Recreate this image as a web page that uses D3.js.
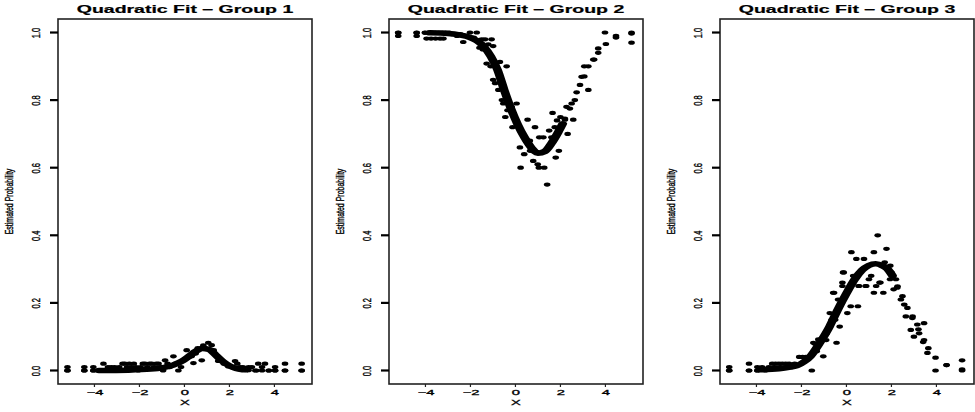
<!DOCTYPE html>
<html>
<head>
<meta charset="utf-8">
<script src="https://cdn.jsdelivr.net/npm/d3@7"></script>
<style>
  html, body { margin: 0; padding: 0; background: #fff; }
  svg { display: block; font-family: "Liberation Sans", Arial, sans-serif; }
</style>
</head>
<body>
<svg id="chart" width="975" height="412"></svg>
<script>
// values
const titles = ["Quadratic Fit – Group 1", "Quadratic Fit – Group 2", "Quadratic Fit – Group 3"];
const xTicks = [-4, -2, 0, 2, 4];
const yTicks = [0, 0.2, 0.4, 0.6, 0.8, 1.0];
const xLabel = "X";
const yLabel = "Estimated Probability";

// fitted curve where the x values are dense (drawn as a thick band)
const curve1 = [[-3.8, 0], [-2.5, 0.001], [-1.5, 0.004], [-1.0, 0.008], [-0.5, 0.016], [-0.1, 0.028],
  [0.2, 0.042], [0.5, 0.057], [0.8, 0.065], [1.1, 0.062], [1.4, 0.045], [1.7, 0.027], [2.0, 0.014],
  [2.3, 0.006], [2.6, 0.002]];
const curve2 = [[-3.8, 0.999], [-3, 0.997], [-2.5, 0.993], [-2.0, 0.985], [-1.7, 0.975], [-1.4, 0.958],
  [-1.1, 0.93], [-0.8, 0.89], [-0.5, 0.83], [-0.2, 0.775], [0.1, 0.728], [0.4, 0.69], [0.7, 0.66],
  [1.0, 0.643], [1.3, 0.648], [1.6, 0.672], [1.9, 0.705], [2.1, 0.73]];
const curve3 = [[-3.8, 0.002], [-3, 0.005], [-2.5, 0.01], [-2.2, 0.014], [-1.9, 0.025], [-1.6, 0.042],
  [-1.2, 0.08], [-0.75, 0.13], [-0.4, 0.178], [0, 0.228], [0.35, 0.268], [0.7, 0.297], [1.0, 0.311],
  [1.3, 0.316], [1.6, 0.31], [1.8, 0.302], [2.05, 0.28]];

// fitted values at the sparse x values
const fit1 = [[-5.2, 0], [-4.45, 0], [-4.05, 0], [2.85, 0.001], [3.2, 0], [3.45, 0], [3.75, 0],
  [4.03, 0], [4.47, 0], [5.21, 0]];
const fit2 = [[-5.21, 0.999], [-4.39, 0.999], [-4.02, 0.999], [2.2, 0.745], [2.42, 0.775], [2.64, 0.80],
  [2.87, 0.845], [3.06, 0.87], [3.24, 0.9], [3.46, 0.92], [3.68, 0.94], [4.02, 0.966], [4.47, 0.985],
  [5.16, 0.997]];
const fit3 = [[-5.21, 0], [-4.33, 0], [-3.96, 0], [2.27, 0.249], [2.49, 0.22], [2.71, 0.185],
  [2.93, 0.155], [3.2, 0.122], [3.45, 0.09], [3.64, 0.066], [3.96, 0.038], [4.45, 0.016], [5.14, 0.003]];

// observed proportions
const obs1 = [[-5.2, 0], [-5.2, 0.01], [-4.45, 0], [-4.45, 0.01], [-4.05, 0], [-4.05, 0.01],
  [-3.6, 0.02], [-3.6, 0], [-3.4, 0.01], [-3.25, 0.01], [-3.1, 0.01], [-3.0, 0], [-2.9, 0.01],
  [-2.75, 0.02], [-2.65, 0.02], [-2.55, 0.01], [-2.45, 0.02], [-2.35, 0.01], [-2.25, 0.02],
  [-2.15, 0.01], [-2.05, 0], [-1.95, 0.01], [-1.85, 0.02], [-1.75, 0.02], [-1.65, 0.01],
  [-1.55, 0.02], [-1.45, 0.02], [-1.35, 0.01], [-1.25, 0.02], [-1.15, 0.02], [-1.05, 0.01],
  [-0.95, 0], [-0.86, 0.03], [-0.75, 0.02], [-0.65, 0.01], [-0.49, 0.042], [-0.4, 0.02],
  [-0.27, 0], [-0.15, 0.01], [-0.05, 0.03], [0.1, 0.06], [0.2, 0.04], [0.32, 0.042], [0.4, 0.022],
  [0.5, 0.05], [0.59, 0.066], [0.77, 0.03], [0.84, 0.074], [1.06, 0.082], [1.21, 0.075], [1.3, 0.06],
  [1.36, 0.05], [1.5, 0.028], [1.6, 0.03], [1.75, 0.02], [1.95, 0.012], [2.1, 0.01], [2.25, 0.028],
  [2.35, 0.02], [2.47, 0.01], [2.6, 0.01], [2.75, 0], [2.85, 0.01], [3.0, 0.01], [3.15, 0],
  [3.28, 0.02], [3.45, 0.01], [3.58, 0.02], [3.75, 0], [4.03, 0], [4.03, 0.01], [4.47, 0.02],
  [4.47, 0], [5.21, 0.02], [5.21, 0]];
const obs2 = [[-5.21, 1.0], [-5.21, 0.99], [-4.39, 1.0], [-4.39, 0.99], [-4.02, 1.0], [-3.85, 1.0],
  [-3.7, 1.0], [-3.55, 1.0], [-3.4, 1.0], [-3.25, 1.0], [-3.1, 1.0], [-2.95, 1.0], [-3.95, 0.982],
  [-3.75, 0.982], [-3.55, 0.982], [-3.35, 0.982], [-3.2, 0.982], [-2.8, 0.995], [-2.6, 0.99],
  [-2.45, 0.995], [-2.32, 0.972], [-2.2, 0.99], [-2.02, 1.0], [-1.72, 1.0], [-1.85, 0.985],
  [-1.5, 0.98], [-1.35, 0.98], [-1.21, 0.965], [-1.06, 0.98], [-0.99, 0.96], [-1.28, 0.908],
  [-0.69, 0.913], [-0.39, 0.9], [-0.99, 0.86], [-0.76, 0.83], [-0.54, 0.79], [-0.24, 0.771],
  [0.05, 0.79], [-0.17, 0.78], [-0.13, 0.72], [0.54, 0.742], [0.87, 0.72], [0.64, 0.68], [1.06, 0.69],
  [1.24, 0.69], [0.39, 0.64], [0.23, 0.60], [0.79, 0.62], [0.99, 0.61], [1.04, 0.60], [1.28, 0.60],
  [1.41, 0.55], [1.5, 0.71], [1.65, 0.762], [1.79, 0.63], [1.93, 0.65], [2.32, 0.70], [2.2, 0.742],
  [2.27, 0.78], [2.5, 0.79], [2.57, 0.742], [2.72, 0.823], [2.94, 0.869], [3.06, 0.9], [3.24, 0.83],
  [3.5, 0.92], [3.68, 0.953], [3.98, 1.0], [4.47, 0.99], [5.16, 0.97], [5.16, 1.0],
  [-1.6, 0.955], [-1.45, 0.95], [-1.1, 0.9], [-0.9, 0.85], [-0.6, 0.8], [-0.35, 0.77], [-0.45, 0.75],
  [0.2, 0.66], [0.65, 0.65], [1.6, 0.69], [1.75, 0.72], [1.85, 0.74], [2.0, 0.75]];
const obs3 = [[-5.21, 0.01], [-5.21, 0], [-4.33, 0.02], [-4.33, 0], [-3.96, 0.01], [-3.96, 0],
  [-3.75, 0.01], [-3.6, 0], [-3.45, 0.01], [-3.3, 0.02], [-3.15, 0.02], [-3.0, 0.02], [-2.85, 0.02],
  [-2.7, 0.02], [-2.55, 0.02], [-3.2, 0.01], [-2.95, 0.01], [-2.7, 0.01], [-2.45, 0.01], [-2.3, 0.02],
  [-2.1, 0.04], [-1.95, 0.04], [-1.8, 0.04], [-1.65, 0.04], [-1.54, 0], [-1.4, 0.079], [-1.25, 0.092],
  [-1.47, 0.082], [-1.03, 0.042], [-1.32, 0.057], [-0.88, 0.11], [-0.66, 0.14], [-0.44, 0.082],
  [-0.3, 0.13], [-0.66, 0.15], [-0.74, 0.17], [-0.37, 0.21], [-0.59, 0.23], [-0.18, 0.25],
  [-0.12, 0.29], [0.04, 0.17], [0.19, 0.19], [0.51, 0.19], [0.56, 0.25], [0.85, 0.25], [1.22, 0.23],
  [1.47, 0.26], [1.94, 0.27], [2.1, 0.24], [2.42, 0.21], [2.57, 0.195], [2.64, 0.16], [2.94, 0.16],
  [2.86, 0.12], [3.0, 0.10], [3.23, 0.11], [3.15, 0.136], [3.45, 0.14], [3.41, 0.084], [3.6, 0.052],
  [3.96, 0], [4.45, 0.016], [5.14, 0.03], [5.14, 0],
  [1.39, 0.40], [1.78, 0.36], [0.22, 0.35], [1.22, 0.35], [0.44, 0.33], [0.78, 0.33], [-0.15, 0.29],
  [1.7, 0.32], [1.95, 0.31], [1.1, 0.28], [1.51, 0.26], [1.32, 0.25], [0.54, 0.25], [0.88, 0.25],
  [1.64, 0.23], [-0.18, 0.26], [-0.55, 0.23], [2.2, 0.27], [2.26, 0.245],
  [-0.9, 0.09], [-0.5, 0.15], [-0.2, 0.2], [0.1, 0.24], [0.3, 0.28], [0.6, 0.29], [1.0, 0.27],
  [1.6, 0.31], [2.0, 0.29]];

const panels = [
  { title: titles[0], curve: curve1, fit: fit1, obs: obs1 },
  { title: titles[1], curve: curve2, fit: fit2, obs: obs2 },
  { title: titles[2], curve: curve3, fit: fit3, obs: obs3 },
];

const svg = d3.select("#chart");
const boxW = 254;
const boxTop = 19;
const boxBottom = 384;
const lefts = [58, 389, 720];
// the picture was widened: dots, strokes and text are stretched sideways
const stretch = 1.6;

panels.forEach((p, i) => {
  const left = lefts[i];
  const mid = left + boxW / 2;
  const x = d3.scaleLinear().domain([-5.62, 5.67]).range([left, left + boxW]);
  const y = d3.scaleLinear().domain([-0.04, 1.04]).range([boxBottom, boxTop]);
  const g = svg.append("g");

  // fitted band
  const line = d3
    .line()
    .x((d) => x(d[0]) / stretch)
    .y((d) => y(d[1]))
    .curve(d3.curveMonotoneX);
  g.append("g")
    .attr("transform", `scale(${stretch},1)`)
    .append("path")
    .datum(p.curve)
    .attr("d", line)
    .attr("fill", "none")
    .attr("stroke", "#000")
    .attr("stroke-width", 5.5)
    .attr("stroke-linecap", "round")
    .attr("stroke-linejoin", "round");

  // dots
  g.append("g")
    .selectAll("ellipse")
    .data(p.fit.concat(p.obs))
    .join("ellipse")
    .attr("cx", (d) => x(d[0]))
    .attr("cy", (d) => y(d[1]))
    .attr("rx", 3.3)
    .attr("ry", 2.1)
    .attr("fill", "#000");

  // box
  g.append("rect")
    .attr("x", left)
    .attr("y", boxTop)
    .attr("width", boxW)
    .attr("height", boxBottom - boxTop)
    .attr("fill", "none")
    .attr("stroke", "#222")
    .attr("stroke-width", 1.6);

  // x axis (labels from the axis, tick marks drawn below)
  const gx = g
    .append("g")
    .attr("transform", `translate(0,${boxBottom})`)
    .call(d3.axisBottom(x).tickValues(xTicks).tickSize(0));
  gx.select(".domain").remove();
  gx.selectAll("text")
    .attr("y", 10.8)
    .attr("dy", 0)
    .attr("transform", "scale(2.1,1)")
    .attr("font-size", 7)
    .attr("font-family", "Liberation Sans, Arial, sans-serif")
    .attr("fill", "#000")
    .attr("stroke", "#000")
    .attr("stroke-width", 0.3);
  g.append("g")
    .selectAll("line")
    .data(xTicks)
    .join("line")
    .attr("x1", (d) => x(d))
    .attr("x2", (d) => x(d))
    .attr("y1", boxBottom)
    .attr("y2", boxBottom + 3)
    .attr("stroke", "#222")
    .attr("stroke-width", 1.2);

  // y axis
  const gy = g
    .append("g")
    .attr("transform", `translate(${left},0)`)
    .call(
      d3.axisLeft(y).tickValues(yTicks).tickSize(0).tickFormat(d3.format(".1f"))
    );
  gy.select(".domain").remove();
  gy.selectAll("text")
    .attr("x", 0)
    .attr("dy", 0)
    .attr("text-anchor", "middle")
    .attr("transform", "translate(-18,0) scale(1.5,1) rotate(-90)")
    .attr("font-size", 7.5)
    .attr("font-family", "Liberation Sans, Arial, sans-serif")
    .attr("fill", "#000")
    .attr("stroke", "#000")
    .attr("stroke-width", 0.25);
  g.append("g")
    .selectAll("line")
    .data(yTicks)
    .join("line")
    .attr("x1", left - 8)
    .attr("x2", left)
    .attr("y1", (d) => y(d))
    .attr("y2", (d) => y(d))
    .attr("stroke", "#000")
    .attr("stroke-width", 2.2);

  // title
  g.append("text")
    .attr("transform", `translate(${mid},12.5) scale(1.95,1)`)
    .attr("text-anchor", "middle")
    .attr("font-size", 10)
    .attr("font-weight", "bold")
    .attr("stroke", "#000")
    .attr("stroke-width", 0.2)
    .text(p.title);

  // axis labels
  g.append("text")
    .attr("transform", `translate(${mid},404.5) scale(2.1,1)`)
    .attr("text-anchor", "middle")
    .attr("font-size", 7)
    .attr("stroke", "#000")
    .attr("stroke-width", 0.25)
    .text(xLabel);
  g.append("text")
    .attr("transform", `translate(${left - 44.7},${(boxTop + boxBottom) / 2}) scale(1.5,1) rotate(-90)`)
    .attr("text-anchor", "middle")
    .attr("font-size", 7)
    .attr("stroke", "#000")
    .attr("stroke-width", 0.25)
    .text(yLabel);
});
</script>
</body>
</html>
